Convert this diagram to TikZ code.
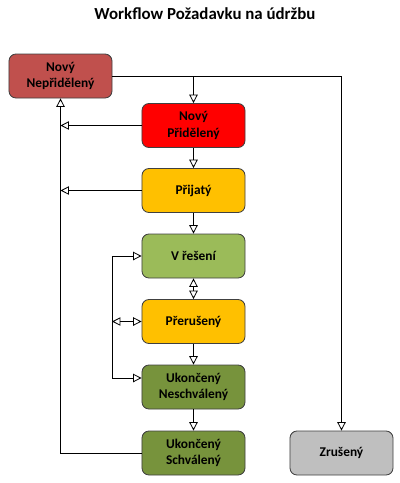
\documentclass[tikz,border=0pt]{standalone}
\usepackage{fontspec}
\setmainfont{Carlito}
\usetikzlibrary{arrows.meta}
\definecolor{nerozd}{HTML}{C0504D}
\definecolor{prid}{HTML}{FF0000}
\definecolor{oranz}{HTML}{FFC000}
\definecolor{svzel}{HTML}{9BBB59}
\definecolor{tmzel}{HTML}{77933C}
\definecolor{seda}{HTML}{BFBFBF}
\tikzset{
 stav/.style={draw=black!75, line width=.6pt, rounded corners=5pt, minimum width=2.575cm,
   minimum height=1.1cm, inner sep=0pt, align=center, font=\bfseries\fontsize{9.5}{11.5}\selectfont},
 tok/.style={-{Triangle[open,length=6pt,width=6pt]}},
 obtok/.style={{Triangle[open,length=6pt,width=6pt]}-{Triangle[open,length=6pt,width=6pt]}}
}
\begin{document}
\begin{tikzpicture}[x=.025cm,y=-.025cm,line width=.6pt]
 \useasboundingbox (0,0) rectangle (400,483);
 \node[font=\bfseries\fontsize{12}{14}\selectfont] (nadpis) at (205,14) {Workflow Požadavku na údržbu};
 \node[stav,fill=nerozd] (nn) at (60.5,76) {Nový\\Nepřidělený};
 \node[stav,fill=prid] (np) at (193.5,125.5) {Nový\\Přidělený};
 \node[stav,fill=oranz] (pr) at (193.5,190.5) {Přijatý};
 \node[stav,fill=svzel] (vr) at (193.5,256) {V řešení};
 \node[stav,fill=oranz] (pe) at (193.5,321.5) {Přerušený};
 \node[stav,fill=tmzel] (un) at (193.5,387) {Ukončený\\Neschválený};
 \node[stav,fill=tmzel] (us) at (193.5,453) {Ukončený\\Schválený};
 \node[stav,fill=seda] (zr) at (341.5,453) {Zrušený};
 \coordinate (vetev) at (nn.east -| np.north);
 \coordinate (levo) at (112,256);
 \draw[tok] (nn.east) -| (zr.north);
 \draw[tok] (vetev) -- (np.north);
 \draw[tok] (us.west) -| (nn.south);
 \draw[tok] (np.west) -- (np.west -| nn.south);
 \draw[tok] (pr.west) -- (pr.west -| nn.south);
 \draw[tok] (np) -- (pr);
 \draw[tok] (pr) -- (vr);
 \draw[obtok] (vr) -- (pe);
 \draw[tok] (pe) -- (un);
 \draw[tok] (un) -- (us);
 \draw[tok] (levo) -- (vr.west);
 \draw[tok] (levo) |- ([yshift=6.4pt]un.west);
 \draw[obtok] (pe.west -| levo) -- (pe.west);
\end{tikzpicture}
\end{document}
